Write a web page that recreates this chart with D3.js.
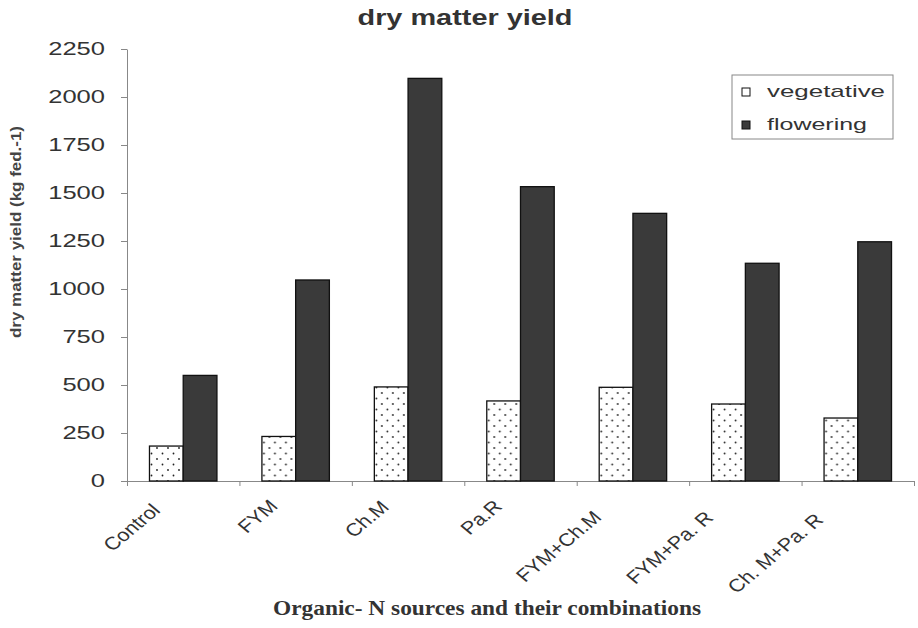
<!DOCTYPE html>
<html>
<head>
<meta charset="utf-8">
<script src="https://cdn.jsdelivr.net/npm/d3@7"></script>
<style>
  body { margin: 0; background: #fff; }
  svg { display: block; }
  .axis path, .axis line { stroke: #888; }
</style>
</head>
<body>
<script>
  // chart data
  var categories = ["Control", "FYM", "Ch.M", "Pa.R", "FYM+Ch.M", "FYM+Pa. R", "Ch. M+Pa. R"];
  var seriesNames = ["vegetative", "flowering"];
  var vegetative = [182, 232, 490, 417, 488, 401, 328];
  var flowering = [550, 1047, 2097, 1533, 1394, 1134, 1246];
  var yTicks = [0, 250, 500, 750, 1000, 1250, 1500, 1750, 2000, 2250];

  var width = 918, height = 628;
  var plot = { left: 127, right: 914, top: 49, bottom: 481 };

  var svg = d3.select("body").append("svg")
    .attr("width", width)
    .attr("height", height);

  // dotted fill for the vegetative bars
  var defs = svg.append("defs");
  var dots = defs.append("pattern")
    .attr("id", "dots")
    .attr("patternUnits", "userSpaceOnUse")
    .attr("width", 11)
    .attr("height", 11);
  dots.append("rect").attr("width", 11).attr("height", 11).attr("fill", "#fff");
  dots.append("circle").attr("cx", 2.5).attr("cy", 2.5).attr("r", 0.9).attr("fill", "#222");
  dots.append("circle").attr("cx", 8).attr("cy", 8).attr("r", 0.9).attr("fill", "#222");

  var fills = { vegetative: "url(#dots)", flowering: "#3a3a3a" };

  var x0 = d3.scaleBand()
    .domain(categories)
    .range([plot.left, plot.right]);

  var bw = x0.bandwidth();
  var x1 = d3.scaleBand()
    .domain(seriesNames)
    .range([0.2 * bw, 0.8 * bw]);

  var y = d3.scaleLinear()
    .domain([0, 2250])
    .range([plot.bottom, plot.top]);

  // y axis
  var yAxis = svg.append("g")
    .attr("class", "axis")
    .attr("transform", "translate(" + plot.left + ",0)")
    .call(d3.axisLeft(y).tickValues(yTicks).tickFormat(d3.format("d")).tickSize(6).tickSizeOuter(0));

  yAxis.selectAll("text")
    .attr("x", -22)
    .attr("font-family", "Liberation Sans, Arial, sans-serif")
    .attr("font-size", 18)
    .attr("fill", "#333")
    .attr("textLength", function(d) { return String(d).length * 14.2; })
    .attr("lengthAdjust", "spacingAndGlyphs");

  // x axis, ticks between the categories
  var xTickScale = d3.scaleLinear().domain([0, categories.length]).range([plot.left, plot.right]);
  svg.append("g")
    .attr("class", "axis")
    .attr("transform", "translate(0," + plot.bottom + ")")
    .call(d3.axisBottom(xTickScale)
      .tickValues(d3.range(categories.length + 1))
      .tickSize(5)
      .tickSizeOuter(0)
      .tickFormat(""));

  // bars
  var groups = svg.append("g").selectAll("g")
    .data(categories)
    .enter().append("g")
    .attr("transform", function(d) { return "translate(" + x0(d) + ",0)"; });

  groups.selectAll("rect")
    .data(function(d, i) {
      return [
        { key: "vegetative", value: vegetative[i] },
        { key: "flowering", value: flowering[i] }
      ];
    })
    .enter().append("rect")
    .attr("x", function(d) { return x1(d.key); })
    .attr("y", function(d) { return y(d.value); })
    .attr("width", x1.bandwidth())
    .attr("height", function(d) { return y(0) - y(d.value); })
    .attr("fill", function(d) { return fills[d.key]; })
    .attr("stroke", "#111")
    .attr("stroke-width", 1.3);

  // slanted category labels
  svg.append("g").selectAll("text")
    .data(categories)
    .enter().append("text")
    .attr("transform", function(d) {
      return "translate(" + (x0(d) + bw / 2 - 7) + ",499) scale(1.2,1) rotate(-45)";
    })
    .attr("text-anchor", "end")
    .attr("font-family", "Liberation Sans, Arial, sans-serif")
    .attr("font-size", 18)
    .attr("fill", "#333")
    .text(function(d) { return d; })
    .attr("x", function() { return -0.3 * this.getComputedTextLength(); });

  // title
  svg.append("text")
    .attr("x", 465)
    .attr("y", 25)
    .attr("text-anchor", "middle")
    .attr("font-family", "Liberation Sans, Arial, sans-serif")
    .attr("font-weight", "bold")
    .attr("font-size", 22)
    .attr("fill", "#333")
    .attr("textLength", 215)
    .attr("lengthAdjust", "spacingAndGlyphs")
    .text("dry matter yield");

  // y axis title
  svg.append("text")
    .attr("transform", "translate(21,232) rotate(-90)")
    .attr("text-anchor", "middle")
    .attr("font-family", "Liberation Sans, Arial, sans-serif")
    .attr("font-weight", "bold")
    .attr("font-size", 15)
    .attr("fill", "#444")
    .attr("textLength", 212)
    .attr("lengthAdjust", "spacingAndGlyphs")
    .text("dry matter yield (kg fed.-1)");

  // x axis title
  svg.append("text")
    .attr("x", 487)
    .attr("y", 615)
    .attr("text-anchor", "middle")
    .attr("font-family", "Liberation Serif, Times New Roman, serif")
    .attr("font-weight", "bold")
    .attr("font-size", 21)
    .attr("fill", "#333")
    .attr("textLength", 428)
    .attr("lengthAdjust", "spacingAndGlyphs")
    .text("Organic- N sources and their combinations");

  // legend
  var legend = svg.append("g").attr("transform", "translate(732,75)");
  legend.append("rect")
    .attr("width", 161)
    .attr("height", 64)
    .attr("fill", "#fff")
    .attr("stroke", "#888");

  var items = legend.selectAll(".item")
    .data(seriesNames)
    .enter().append("g")
    .attr("class", "item")
    .attr("transform", function(d, i) { return "translate(10," + (13 + i * 33) + ")"; });

  items.append("rect")
    .attr("width", 8)
    .attr("height", 8)
    .attr("fill", function(d) { return d == "vegetative" ? "#fff" : fills[d]; })
    .attr("stroke", "#111")
    .attr("stroke-width", 1);

  items.append("text")
    .attr("x", 25)
    .attr("y", 9)
    .attr("font-family", "Liberation Sans, Arial, sans-serif")
    .attr("font-size", 17)
    .attr("fill", "#333")
    .attr("textLength", function(d) { return d == "vegetative" ? 118 : 100; })
    .attr("lengthAdjust", "spacingAndGlyphs")
    .text(function(d) { return d; });
</script>
</body>
</html>
